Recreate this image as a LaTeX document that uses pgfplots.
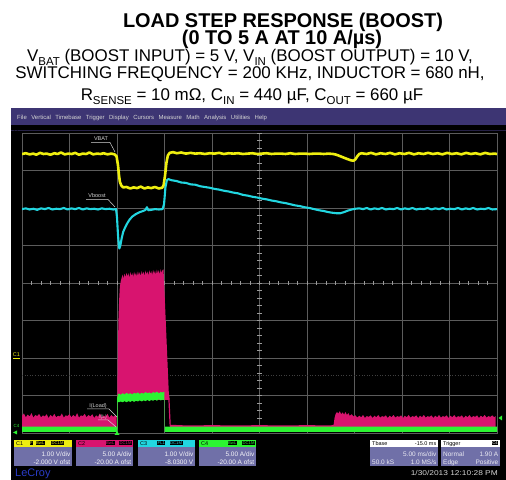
\documentclass[border=0pt]{standalone}
\usepackage{pgfplots}
\pgfplotsset{compat=1.18}
\usepackage{fontspec}
\setmainfont{Liberation Sans}
\definecolor{scyellow}{HTML}{EEEE10}
\definecolor{sccyan}{HTML}{22D6E0}
\definecolor{scmag}{HTML}{D8146F}
\definecolor{scgreen}{HTML}{2CF432}
\definecolor{scgrid}{HTML}{5C5C5C}
\definecolor{tickgray}{HTML}{9A9A9A}
\definecolor{menupurple}{HTML}{3D3573}
\definecolor{lav}{HTML}{7070A8}
\definecolor{lbl}{HTML}{D4D4D4}
\definecolor{lcblue}{HTML}{2A3CC8}
\newcommand{\fs}[1]{\fontsize{#1}{#1}\selectfont}
\newcommand{\sub}[1]{\raisebox{-0.22em}{\fontsize{11.5}{11.5}\selectfont #1}}
\begin{document}
\begin{tikzpicture}[x=1bp,y=1bp]
\useasboundingbox (0,0) rectangle (506,480);
\fill[white] (0,0) rectangle (506,480);
% titles
\node[anchor=base,inner sep=0] at (283,452) {\fs{20}\bfseries LOAD STEP RESPONSE (BOOST)};
\node[anchor=base,inner sep=0] at (282,435.5) {\fs{20}\bfseries (0 TO 5 A AT 10 A/µs)};
\node[anchor=base,inner sep=0] at (250,418.5) {\fs{17}V\sub{BAT} (BOOST INPUT) = 5 V, V\sub{IN} (BOOST OUTPUT) = 10 V,};
\node[anchor=base,inner sep=0] at (250,401.5) {\fs{17}SWITCHING FREQUENCY = 200 KHz, INDUCTOR = 680 nH,};
\node[anchor=base,inner sep=0] at (252,379) {\fs{17}R\sub{SENSE} = 10 mΩ, C\sub{IN} = 440 µF, C\sub{OUT} = 660 µF};
% scope screen
\fill[black] (11,0) rectangle (506,355);
\fill[menupurple] (11,355) rectangle (506,372);
\draw[color=menupurple!60!black,line width=1bp] (11,349) -- (506,349);
\node[anchor=base west,inner sep=0,text=lbl] at (17,360.5) {\fs{6}File\hspace{4.5bp}Vertical\hspace{4.5bp}Timebase\hspace{4.5bp}Trigger\hspace{4.5bp}Display\hspace{4.5bp}Cursors\hspace{4.5bp}Measure\hspace{4.5bp}Math\hspace{4.5bp}Analysis\hspace{4.5bp}Utilities\hspace{4.5bp}Help};
\begin{axis}[
  at={(22bp,47bp)}, anchor=south west, scale only axis,
  width=475bp, height=300bp,
  xmin=0, xmax=10, ymin=0, ymax=8,
  xtick={0,1,...,10}, ytick={0,1,...,8},
  xticklabel={}, yticklabel={},
  major tick length=0pt,
  grid=major, grid style={scgrid, line width=0.6bp},
  axis line style={scgrid, line width=0.8bp},
]
\draw[color=black!75!white, dotted, line width=0.6bp] (axis cs:0,1.55) -- (axis cs:10,1.55);
\pgfplotsinvokeforeach{0.2,0.4,...,9.9}{\draw[tickgray,line width=0.6bp] (axis cs:#1,3.94) -- (axis cs:#1,4.06);}
\pgfplotsinvokeforeach{0.2,0.4,...,7.9}{\draw[tickgray,line width=0.6bp] (axis cs:4.955,#1) -- (axis cs:5.045,#1);}
% I(L) magenta : pre-pulse band
\addplot[draw=none, fill=scmag, mark=none] coordinates {
(0.00,0.46)(0.04,0.52)(0.08,0.42)(0.12,0.49)(0.16,0.44)(0.20,0.53)(0.24,0.41)(0.28,0.48)(0.32,0.45)(0.36,0.51)
(0.40,0.42)(0.44,0.47)(0.48,0.44)(0.52,0.50)(0.56,0.40)(0.60,0.48)(0.64,0.43)(0.68,0.51)(0.72,0.42)(0.76,0.46)
(0.80,0.44)(0.84,0.52)(0.88,0.41)(0.92,0.47)(0.96,0.45)(1.00,0.50)(1.04,0.42)(1.08,0.48)(1.12,0.43)(1.16,0.53)
(1.20,0.41)(1.24,0.47)(1.28,0.45)(1.32,0.51)(1.36,0.42)(1.40,0.48)(1.44,0.44)(1.48,0.50)(1.52,0.40)(1.56,0.47)
(1.60,0.43)(1.64,0.52)(1.68,0.42)(1.72,0.46)(1.76,0.44)(1.80,0.51)(1.84,0.41)(1.88,0.48)(1.92,0.43)(1.96,0.47)
(1.99,0.44)(1.99,0.14)(0.00,0.14)};
% pulse band
\addplot[draw=none, fill=scmag, mark=none] coordinates {
(2.00,0.88)(2.00,0.50)(2.01,1.50)(2.02,2.30)(2.03,3.00)(2.045,3.55)(2.06,3.90)(2.08,4.05)(2.10,4.15)
(2.12,4.22)(2.14,4.12)(2.16,4.25)(2.18,4.15)(2.20,4.27)(2.22,4.18)(2.24,4.26)(2.26,4.14)(2.28,4.29)(2.30,4.19)
(2.32,4.27)(2.34,4.16)(2.36,4.30)(2.38,4.20)(2.40,4.28)(2.42,4.17)(2.44,4.31)(2.46,4.21)(2.48,4.29)(2.50,4.18)
(2.52,4.32)(2.54,4.22)(2.56,4.30)(2.58,4.19)(2.60,4.33)(2.62,4.23)(2.64,4.31)(2.66,4.20)(2.68,4.34)(2.70,4.24)
(2.72,4.32)(2.74,4.21)(2.76,4.35)(2.78,4.25)(2.80,4.33)(2.82,4.22)(2.84,4.36)(2.86,4.26)(2.88,4.34)(2.90,4.23)
(2.92,4.37)(2.94,4.27)(2.96,4.35)(2.98,4.36)(3.097,0.88)(2.02,0.88)};
\addplot[scmag, line width=1.2bp, mark=none] coordinates {(3.09,1.0)(3.12,0.18)};
% post-pulse band
\addplot[draw=none, fill=scmag, mark=none] coordinates {
(3.12,0.22)(3.50,0.20)(4.00,0.21)(4.50,0.20)(5.00,0.21)(5.50,0.20)(6.00,0.21)(6.50,0.20)(6.56,0.22)
(6.58,0.40)(6.60,0.50)(6.63,0.56)(6.66,0.52)(6.69,0.58)(6.72,0.50)(6.75,0.55)(6.78,0.49)(6.81,0.56)(6.84,0.48)
(6.87,0.53)(6.90,0.46)(6.94,0.50)(6.98,0.44)
(7.02,0.47)(7.06,0.41)(7.10,0.46)(7.14,0.42)(7.18,0.48)(7.22,0.40)(7.26,0.45)(7.30,0.43)(7.34,0.47)(7.38,0.40)
(7.42,0.46)(7.46,0.42)(7.50,0.48)(7.54,0.41)(7.58,0.45)(7.62,0.43)(7.66,0.47)(7.70,0.40)(7.74,0.46)(7.78,0.42)
(7.82,0.48)(7.86,0.41)(7.90,0.45)(7.94,0.43)(7.98,0.47)(8.02,0.40)(8.06,0.46)(8.10,0.42)(8.14,0.48)(8.18,0.41)
(8.22,0.45)(8.26,0.43)(8.30,0.47)(8.34,0.40)(8.38,0.46)(8.42,0.42)(8.46,0.48)(8.50,0.41)(8.54,0.45)(8.58,0.43)
(8.62,0.47)(8.66,0.40)(8.70,0.46)(8.74,0.42)(8.78,0.48)(8.82,0.41)(8.86,0.45)(8.90,0.43)(8.94,0.47)(8.98,0.40)
(9.02,0.46)(9.06,0.42)(9.10,0.48)(9.14,0.41)(9.18,0.45)(9.22,0.43)(9.26,0.47)(9.30,0.40)(9.34,0.46)(9.38,0.42)
(9.42,0.48)(9.46,0.41)(9.50,0.45)(9.54,0.43)(9.58,0.47)(9.62,0.40)(9.66,0.46)(9.70,0.42)(9.74,0.48)(9.78,0.41)
(9.82,0.45)(9.86,0.43)(9.90,0.47)(9.94,0.42)(9.97,0.45)(9.97,0.14)(3.12,0.14)};
% I(Load) green band
\addplot[draw=none, fill=scgreen, mark=none] coordinates {
(0.00,0.17)(2.00,0.17)(2.005,0.95)(2.02,1.04)
(2.04,1.05)(2.08,1.02)(2.12,1.06)(2.16,1.03)(2.20,1.07)(2.24,1.04)(2.28,1.06)(2.32,1.03)(2.36,1.07)(2.40,1.05)
(2.44,1.08)(2.48,1.04)(2.52,1.07)(2.56,1.05)(2.60,1.09)(2.64,1.06)(2.68,1.08)(2.72,1.05)(2.76,1.09)(2.80,1.07)
(2.84,1.10)(2.88,1.06)(2.92,1.09)(2.96,1.08)(2.995,1.10)(3.00,0.17)(10.00,0.17)
(10.00,0.03)(3.005,0.03)(3.00,0.87)
(2.96,0.89)(2.92,0.87)(2.88,0.90)(2.84,0.86)(2.80,0.89)(2.76,0.86)(2.72,0.88)(2.68,0.85)(2.64,0.88)(2.60,0.85)
(2.56,0.87)(2.52,0.84)(2.48,0.87)(2.44,0.84)(2.40,0.86)(2.36,0.83)(2.32,0.86)(2.28,0.83)(2.24,0.85)(2.20,0.82)
(2.16,0.85)(2.12,0.82)(2.08,0.84)(2.04,0.82)(2.015,0.82)(2.01,0.03)(0.00,0.03)};
% VBAT yellow
\addplot[scyellow, line width=2.6bp, line join=round, mark=none] coordinates {
(0.00,7.44)(0.08,7.46)(0.16,7.43)(0.24,7.45)(0.30,7.42)(0.38,7.47)(0.45,7.44)(0.52,7.45)(0.60,7.42)(0.68,7.46)
(0.75,7.44)(0.82,7.48)(0.90,7.43)(0.98,7.45)(1.05,7.44)(1.12,7.47)(1.20,7.42)(1.28,7.45)(1.35,7.44)(1.42,7.48)
(1.50,7.43)(1.58,7.45)(1.65,7.44)(1.72,7.46)(1.80,7.43)(1.88,7.45)(1.95,7.43)(1.99,7.38)(2.02,7.15)(2.04,6.90)
(2.06,6.70)(2.09,6.60)(2.13,6.55)(2.20,6.56)(2.28,6.52)(2.35,6.55)(2.42,6.53)(2.50,6.57)(2.58,6.52)(2.65,6.55)
(2.72,6.53)(2.80,6.56)(2.88,6.52)(2.95,6.54)(2.98,6.60)(3.01,6.85)(3.04,7.20)(3.07,7.40)(3.11,7.47)(3.18,7.49)
(3.26,7.46)(3.35,7.48)(3.45,7.45)(3.55,7.47)(3.65,7.45)(3.75,7.46)(3.85,7.44)(3.95,7.46)(4.05,7.45)(4.15,7.47)
(4.25,7.44)(4.35,7.46)(4.45,7.45)(4.55,7.46)(4.65,7.44)(4.75,7.45)(4.85,7.46)(4.95,7.44)(5.05,7.45)(5.15,7.46)
(5.25,7.44)(5.35,7.45)(5.45,7.45)(5.55,7.44)(5.65,7.46)(5.75,7.44)(5.85,7.45)(5.95,7.45)(6.05,7.44)(6.15,7.45)
(6.25,7.45)(6.35,7.44)(6.45,7.45)(6.55,7.44)(6.62,7.42)(6.70,7.38)(6.78,7.34)(6.86,7.30)(6.93,7.27)(6.98,7.26)
(7.02,7.30)(7.06,7.38)(7.10,7.44)(7.15,7.46)(7.25,7.44)(7.35,7.47)(7.45,7.43)(7.55,7.46)(7.65,7.44)(7.75,7.47)
(7.85,7.43)(7.95,7.46)(8.05,7.44)(8.15,7.47)(8.25,7.43)(8.35,7.46)(8.45,7.44)(8.55,7.47)(8.65,7.44)(8.75,7.46)
(8.85,7.43)(8.95,7.47)(9.05,7.44)(9.15,7.46)(9.25,7.43)(9.35,7.47)(9.45,7.44)(9.55,7.46)(9.65,7.43)(9.75,7.47)
(9.85,7.44)(9.95,7.45)(10.00,7.44)};
% Vboost cyan
\addplot[sccyan, line width=2.1bp, line join=round, mark=none] coordinates {
(0.00,5.97)(0.08,5.99)(0.16,5.96)(0.24,5.98)(0.32,5.95)(0.40,5.99)(0.48,5.97)(0.56,6.00)(0.64,5.96)(0.72,5.98)
(0.80,5.97)(0.88,6.00)(0.96,5.96)(1.04,5.99)(1.12,5.97)(1.20,6.00)(1.28,5.96)(1.36,5.99)(1.44,5.97)(1.52,5.98)
(1.60,5.96)(1.68,5.99)(1.76,5.97)(1.84,5.98)(1.92,5.96)(1.98,5.97)(2.00,5.75)(2.02,5.30)(2.04,4.98)(2.05,4.92)
(2.07,5.00)(2.10,5.20)(2.13,5.36)(2.17,5.48)(2.22,5.60)(2.27,5.70)(2.33,5.78)(2.40,5.84)(2.48,5.89)(2.55,5.92)
(2.60,5.95)(2.63,6.02)(2.66,5.94)(2.72,5.95)(2.80,5.97)(2.88,5.96)(2.96,5.97)(2.99,6.10)(3.02,6.55)(3.05,6.74)
(3.08,6.77)(3.15,6.74)(3.25,6.72)(3.35,6.68)(3.45,6.67)(3.55,6.63)(3.65,6.62)(3.75,6.58)(3.85,6.56)(3.95,6.54)
(4.05,6.51)(4.15,6.49)(4.25,6.46)(4.35,6.44)(4.45,6.41)(4.55,6.39)(4.65,6.35)(4.75,6.33)(4.85,6.30)(4.95,6.28)
(5.05,6.25)(5.15,6.23)(5.25,6.20)(5.35,6.18)(5.45,6.15)(5.55,6.13)(5.65,6.10)(5.75,6.07)(5.85,6.05)(5.95,6.02)
(6.05,6.00)(6.15,5.97)(6.25,5.94)(6.35,5.92)(6.45,5.89)(6.55,5.87)(6.62,5.86)(6.70,5.86)(6.78,5.89)(6.86,5.93)
(6.94,5.96)(7.02,5.98)(7.10,5.99)(7.18,5.97)(7.26,6.00)(7.34,5.96)(7.42,5.99)(7.50,5.97)(7.58,6.00)(7.66,5.96)
(7.74,5.98)(7.82,5.97)(7.90,6.00)(7.98,5.96)(8.06,5.99)(8.14,5.97)(8.22,6.00)(8.30,5.96)(8.38,5.98)(8.46,5.97)
(8.54,6.00)(8.62,5.96)(8.70,5.99)(8.78,5.97)(8.86,6.00)(8.94,5.96)(9.02,5.98)(9.10,5.97)(9.18,6.00)(9.26,5.96)
(9.34,5.99)(9.42,5.97)(9.50,6.00)(9.58,5.96)(9.66,5.98)(9.74,5.97)(9.82,6.00)(9.90,5.96)(10.00,5.97)};
\end{axis}
% trace labels
\begin{scope}[lbl, line width=0.5bp]
\node[anchor=base,inner sep=0,text=lbl] at (101,339) {\fs{5.5}VBAT};
\draw (91,337.5) -- (110,337.5) -- (115,328);
\node[anchor=base,inner sep=0,text=lbl] at (97,282) {\fs{5.5}Vboost};
\draw (86,280.5) -- (108,280.5) -- (115,273);
\node[anchor=base,inner sep=0,text=lbl] at (98,72.5) {\fs{5.5}I(Load)};
\draw (87,71) -- (109,71) -- (117,63);
\node[anchor=base,inner sep=0,text=lbl] at (103,61.5) {\fs{5}I(L)};
\draw (98,60) -- (108,60) -- (116,53);
\end{scope}
% channel markers
\node[anchor=base,inner sep=0,text=scyellow] at (16.5,123.5) {\fs{5.5}C1};
\draw[scyellow,line width=0.6bp] (13,121.5) -- (20,121.5);
\node[anchor=base,inner sep=0,text=scgreen] at (16.5,52) {\fs{4.5}C4};
\fill[scgreen] (13,47.5) -- (17,49.5) -- (17,45.5) -- cycle;
\fill[scgreen] (117,49) -- (114.5,45) -- (119.5,45) -- cycle;
\fill[scgreen] (498.5,62) -- (502,64.5) -- (502,59.5) -- cycle;
% channel boxes
\fill[scyellow] (14,33) rectangle (72,40);
\fill[scmag] (76,33) rectangle (133,40);
\fill[sccyan] (138,33) rectangle (195,40);
\fill[scgreen] (199,33) rectangle (256,40);
\fill[white] (370,33) rectangle (438,40);
\fill[white] (441,33) rectangle (500,40);
\foreach \a/\b in {14/72,76/133,138/195,199/256,370/438,441/500}{\fill[lav] (\a,14) rectangle (\b,33);}
\begin{scope}[every node/.style={inner sep=0}]
\node[anchor=base west,text=black] at (16,34.7) {\fs{5.5}C1};
\node[anchor=base west,text=black] at (78,34.7) {\fs{5.5}C2};
\node[anchor=base west,text=black] at (140,34.7) {\fs{5.5}C3};
\node[anchor=base west,text=black] at (201,34.7) {\fs{5.5}C4};
\node[anchor=base west,fill=black,text=scyellow,inner sep=0.5bp] at (29.5,35.2) {\fs{4.2}F};
\node[anchor=base west,fill=black,text=scyellow,inner sep=0.5bp] at (35.5,35.2) {\fs{4.2}BwL};
\node[anchor=base west,fill=black,text=scyellow,inner sep=0.5bp] at (51,35.2) {\fs{4.2}DC1M};
\node[anchor=base west,fill=black,text=scmag,inner sep=0.5bp] at (105.5,35.2) {\fs{4.2}BwL};
\node[anchor=base west,fill=black,text=scmag,inner sep=0.5bp] at (119,35.2) {\fs{4.2}DC1M};
\node[anchor=base west,fill=black,text=sccyan,inner sep=0.5bp] at (157,35.2) {\fs{4.2}FL1};
\node[anchor=base west,fill=black,text=sccyan,inner sep=0.5bp] at (169.5,35.2) {\fs{4.2}DC1M};
\node[anchor=base west,fill=black,text=scgreen,inner sep=0.5bp] at (227.5,35.2) {\fs{4.2}BwL};
\node[anchor=base west,fill=black,text=scgreen,inner sep=0.5bp] at (242,35.2) {\fs{4.2}DC1M};
\node[anchor=base west,text=black] at (372,34.7) {\fs{5.5}Tbase};
\node[anchor=base east,text=black] at (436.5,34.7) {\fs{5.5}-15.0 ms};
\node[anchor=base west,text=black] at (443,34.7) {\fs{5.5}Trigger};
\node[anchor=base east,fill=black,text=white,inner sep=0.5bp] at (498.5,35.2) {\fs{4.2}C4};
\foreach \r/\l/\m in {70.5/1.00 V\slash div/-2.000 V ofst,131.5/5.00 A\slash div/-20.00 A ofst,193.5/1.00 V\slash div/-8.0300 V,254.5/5.00 A\slash div/-20.00 A ofst}{
  \node[anchor=base east,text=white!92!lav] at (\r,23) {\fs{6.5}\l};
  \node[anchor=base east,text=white!92!lav] at (\r,15.5) {\fs{6.5}\m};}
\node[anchor=base east,text=white!85!lav] at (436.5,23) {\fs{6.5}5.00 ms/div};
\node[anchor=base west,text=white!85!lav] at (372,15.5) {\fs{6.5}50.0 kS};
\node[anchor=base east,text=white!85!lav] at (436.5,15.5) {\fs{6.5}1.0 MS/s};
\node[anchor=base west,text=white!85!lav] at (443,23) {\fs{6.5}Normal};
\node[anchor=base east,text=white!85!lav] at (498.5,23) {\fs{6.5}1.90 A};
\node[anchor=base west,text=white!85!lav] at (443,15.5) {\fs{6.5}Edge};
\node[anchor=base east,text=white!85!lav] at (498.5,15.5) {\fs{6.5}Positive};
\node[anchor=base east,text=lbl] at (498,4.5) {\scalebox{1.2}[1]{\fs{7}1/30/2013 12:10:28 PM}};
\node[anchor=base west,text=lcblue] at (15,3) {\fs{11}LeCroy};
\end{scope}
\end{tikzpicture}
\end{document}
